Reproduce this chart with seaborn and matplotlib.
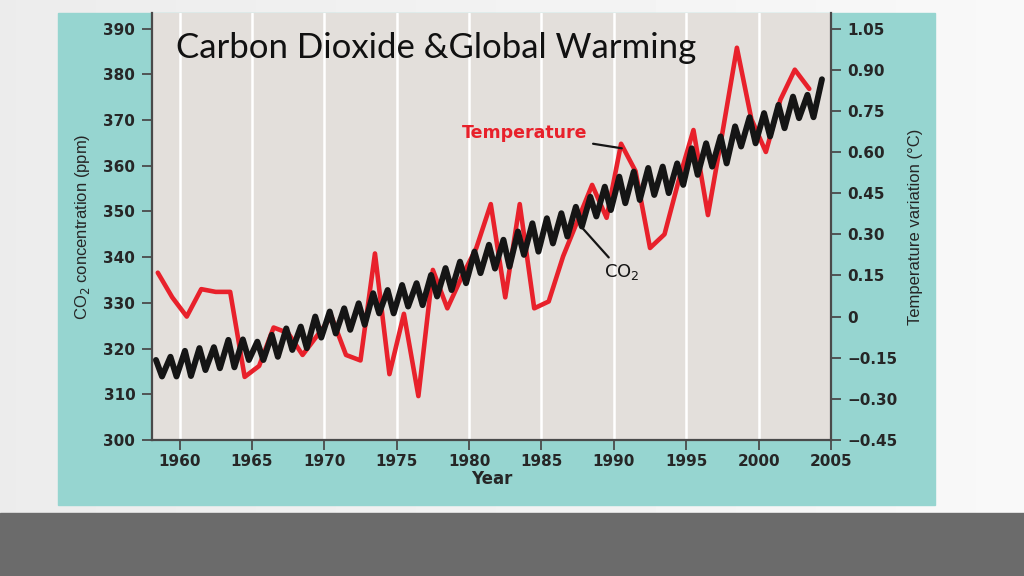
import numpy as np
import pandas as pd
import seaborn as sns
import matplotlib.pyplot as plt
from matplotlib.patches import Rectangle

# Mauna Loa style CO2 record: yearly spring maximum and autumn minimum (ppm)
co2_years = list(range(1958, 2005))
co2_peak = [317.5, 318.2, 319.5, 320.1, 320.3, 321.9, 322.0, 321.5, 323.0, 324.4,
            324.8, 327.0, 328.1, 328.8, 329.9, 332.1, 332.8, 333.9, 334.3, 336.1,
            337.6, 339.0, 341.2, 342.7, 343.8, 345.6, 347.4, 348.5, 349.6, 351.0,
            353.2, 355.4, 357.6, 358.7, 359.5, 359.8, 360.5, 363.8, 364.9, 366.4,
            368.6, 370.6, 371.5, 373.3, 375.1, 375.5, 378.9]
co2_trough = [313.9, 313.9, 314.0, 315.3, 315.7, 315.9, 317.5, 317.5, 318.2, 319.7,
              320.1, 322.4, 323.3, 324.1, 325.2, 327.7, 327.7, 329.2, 329.5, 331.4,
              332.8, 334.3, 336.5, 337.5, 337.9, 340.5, 341.2, 343.0, 344.5, 346.7,
              348.9, 350.3, 351.8, 352.5, 353.6, 354.0, 355.8, 358.0, 359.8, 360.5,
              364.2, 364.9, 366.4, 368.2, 370.4, 370.6]
PEAK_MONTH = 5
TROUGH_MONTH = 10

# annual temperature variation (deg C)
temp_years = list(range(1958, 2004))
temp_vals = [0.16, 0.07, 0.00, 0.10, 0.09, 0.09, -0.22, -0.18, -0.04, -0.06,
             -0.14, -0.07, 0.00, -0.14, -0.16, 0.23, -0.21, 0.01, -0.29, 0.17,
             0.03, 0.145, 0.25, 0.41, 0.07, 0.41, 0.03, 0.055, 0.22, 0.35,
             0.48, 0.36, 0.63, 0.53, 0.25, 0.30, 0.50, 0.68, 0.37, 0.67,
             0.98, 0.72, 0.60, 0.79, 0.90, 0.83]

x_ticks = [1960, 1965, 1970, 1975, 1980, 1985, 1990, 1995, 2000, 2005]
co2_ticks = [300, 310, 320, 330, 340, 350, 360, 370, 380, 390]
temp_ticks = [-0.45, -0.30, -0.15, 0, 0.15, 0.30, 0.45, 0.60, 0.75, 0.90, 1.05]
temp_labels = ["\u22120.45", "\u22120.30", "\u22120.15", "0", "0.15", "0.30",
               "0.45", "0.60", "0.75", "0.90", "1.05"]

# zigzag seasonal CO2 series
rows = []
for i, yr in enumerate(co2_years):
    rows.append((yr + (PEAK_MONTH - 0.5) / 12, co2_peak[i]))
    if i < len(co2_trough):
        rows.append((yr + (TROUGH_MONTH - 0.5) / 12, co2_trough[i]))
co2_df = pd.DataFrame(rows, columns=["year", "co2"])
temp_df = pd.DataFrame({"year": np.array(temp_years) + 0.5, "temp": temp_vals})

sns.set_style("white")
plt.rcParams["font.family"] = ["DejaVu Sans"]

TEAL = "#96d5d0"
PLOT_BG = "#e3dfdb"
RED = "#e8212b"
INK = "#262626"

fig = plt.figure(figsize=(10.24, 5.76), dpi=100)

# slide background: soft grey gradient, dark floor strip, teal panel
bg = fig.add_axes([0, 0, 1, 1], zorder=-10)
bg.imshow(np.linspace(0.925, 0.975, 256)[None, :], cmap="gray", vmin=0, vmax=1,
          aspect="auto", extent=[0, 1, 0, 1])
bg.set_axis_off()
fig.patches.append(Rectangle((0, 0), 1, 63 / 576, transform=fig.transFigure,
                             color="#6b6b6b", zorder=-2))
fig.patches.append(Rectangle((58 / 1024, 1 - 505 / 576), 877 / 1024, 492 / 576,
                             transform=fig.transFigure, color=TEAL, zorder=-1))

ax2 = fig.add_axes([152 / 1024, 1 - 440 / 576, 679 / 1024, 427 / 576], zorder=0)
ax = fig.add_axes([152 / 1024, 1 - 440 / 576, 679 / 1024, 427 / 576], zorder=1,
                  sharex=ax2)
ax2.set_facecolor(PLOT_BG)
ax.patch.set_visible(False)
ax2.yaxis.tick_right()
ax2.yaxis.set_label_position("right")

co2_min, co2_max = 300, 393.4
ax.set_xlim(1958.1, 2005)
ax.set_ylim(co2_min, co2_max)
ax2.set_ylim((co2_min - 327) / 60, (co2_max - 327) / 60)

for yr in x_ticks[:-1]:
    ax2.axvline(yr, color="white", lw=1.8, zorder=0)

sns.lineplot(data=temp_df, x="year", y="temp", ax=ax2, color=RED, lw=3.3,
             zorder=2)
sns.lineplot(data=co2_df, x="year", y="co2", ax=ax, color="#151515", lw=4.3,
             zorder=3)

for a in (ax, ax2):
    for s in a.spines.values():
        s.set_visible(False)
ax.spines["left"].set_visible(True)
ax.spines["bottom"].set_visible(True)
ax2.spines["right"].set_visible(True)
for s in (ax.spines["left"], ax.spines["bottom"], ax2.spines["right"]):
    s.set_color("#4a4a4a")
    s.set_linewidth(1.6)

tick_kw = dict(length=7, width=1.3, color="#4a4a4a", labelsize=11,
               labelcolor=INK)
ax.set_xticks(x_ticks)
ax.set_yticks(co2_ticks)
ax.tick_params(axis="y", direction="out", left=True, pad=5, **tick_kw)
ax.tick_params(axis="x", direction="out", bottom=True, pad=3, **tick_kw)
ax2.tick_params(axis="x", bottom=False, labelbottom=False)
ax2.set_yticks(temp_ticks)
ax2.set_yticklabels(temp_labels)
ax2.tick_params(axis="y", direction="out", right=True, left=False,
                labelleft=False, pad=5, **tick_kw)
for lab in ax.get_xticklabels() + ax.get_yticklabels() + ax2.get_yticklabels():
    lab.set_fontweight("bold")

ax.set_xlabel("Year", fontsize=12, fontweight="bold", color=INK, labelpad=1)
ax2.set_xlabel("")
ax.set_ylabel("CO$_2$ concentration (ppm)", fontsize=12, color=INK,
              family="Liberation Sans", labelpad=8)
ax2.set_ylabel("Temperature variation (\u00b0C)", fontsize=12, color=INK,
               family="Liberation Sans", labelpad=7)

ax.annotate("Temperature", xy=(1990.55, 363.8), xytext=(1988.15, 367.2),
            ha="right", va="center", color=RED, fontsize=12.5,
            fontweight="bold",
            arrowprops=dict(arrowstyle="-", color="#151515", lw=1.6,
                            shrinkA=2, shrinkB=0), zorder=5)
ax.annotate("CO$_2$", xy=(1987.65, 347.0), xytext=(1989.3, 336.8),
            ha="left", va="center", color="#151515", fontsize=13,
            arrowprops=dict(arrowstyle="-", color="#151515", lw=1.6,
                            shrinkA=1, shrinkB=0), zorder=5)

fig.text(176 / 1024, 1 - 58 / 576, "Carbon Dioxide &Global Warming",
         fontsize=25, family="Lato", color="#111111",
         va="baseline", ha="left")

fig.savefig("out.png", dpi=100)
